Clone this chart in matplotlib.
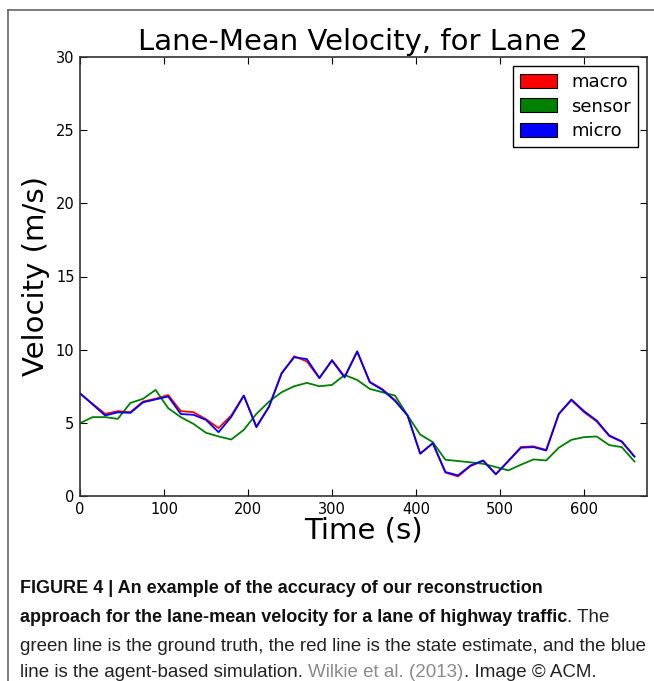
import matplotlib
matplotlib.use("Agg")
import matplotlib.pyplot as plt
from matplotlib.patches import Patch
from matplotlib.lines import Line2D

# ---- data ----
time_s = list(range(0, 661, 15))
macro = [7.0, 6.3, 5.61, 5.8, 5.73, 6.45, 6.65, 6.9, 5.8, 5.73, 5.25, 4.64, 5.5, 6.86, 4.75,
         6.1, 8.35, 9.55, 9.2, 8.05, 9.3, 8.16, 9.85, 7.8, 7.3, 6.55, 5.5, 2.9, 3.6, 1.6,
         1.34, 2.05, 2.4, 1.5, 2.4, 3.35, 3.39, 3.15, 5.6, 6.55, 5.73, 5.1, 4.1, 3.7, 2.7]
sensor = [4.98, 5.39, 5.39, 5.27, 6.36, 6.64, 7.25, 6.0, 5.39, 4.93, 4.32, 4.07, 3.86, 4.52, 5.61,
          6.45, 7.09, 7.5, 7.73, 7.5, 7.59, 8.27, 7.93, 7.32, 7.09, 6.86, 5.5, 4.2, 3.68, 2.48,
          2.39, 2.3, 2.2, 1.98, 1.75, 2.14, 2.5, 2.43, 3.3, 3.84, 4.02, 4.07, 3.48, 3.34, 2.36]
micro = [7.02, 6.26, 5.5, 5.72, 5.68, 6.4, 6.6, 6.8, 5.6, 5.55, 5.2, 4.36, 5.4, 6.86, 4.7,
         6.1, 8.4, 9.48, 9.36, 8.07, 9.25, 8.1, 9.89, 7.77, 7.25, 6.5, 5.5, 2.89, 3.61, 1.64,
         1.41, 2.09, 2.43, 1.48, 2.39, 3.3, 3.34, 3.11, 5.61, 6.59, 5.8, 5.16, 4.14, 3.73, 2.7]
series_names = ["macro", "sensor", "micro"]
series_colors = ["#ff0000", "#008000", "#0000ff"]
x_ticks = [0, 100, 200, 300, 400, 500, 600]
y_ticks = [0, 5, 10, 15, 20, 25, 30]

W, H = 654, 681
fig = plt.figure(figsize=(W / 100, H / 100), dpi=100)
ax = fig.add_axes([80 / W, 1 - 496 / H, (647 - 80) / W, (496 - 57) / H])

for vals, c in zip([macro, sensor, micro], series_colors):
    ax.plot(time_s, vals, color=c, lw=1.3)

ax.set_xlim(0, 675)
ax.set_ylim(0, 30)
ax.set_xticks(x_ticks)
ax.set_yticks(y_ticks)
ax.tick_params(direction="in", top=True, right=True, length=5, width=0.8,
               labelsize=10.5, pad=4)
for s in ax.spines.values():
    s.set_linewidth(1.2)
    s.set_color("#333333")

ax.set_title("Lane-Mean Velocity, for Lane 2", fontsize=21, pad=5)
ax.set_xlabel("Time (s)", fontsize=21, labelpad=0)
ax.set_ylabel("Velocity (m/s)", fontsize=21, labelpad=4)

handles = [Patch(facecolor=c, edgecolor="black", lw=0.8) for c in series_colors]
leg = ax.legend(handles, series_names, loc="upper right", fontsize=13, fancybox=False,
                framealpha=1, edgecolor="black", borderaxespad=0.5, handlelength=2.0,
                handleheight=0.8, labelspacing=0.35, handletextpad=0.8)
leg.get_frame().set_linewidth(1.0)

# outer frame (top and left edges visible)
fig.add_artist(Line2D([8 / W, 1], [1 - 10 / H, 1 - 10 / H], transform=fig.transFigure,
                      color="#666666", lw=1.2))
fig.add_artist(Line2D([8 / W, 8 / W], [1 - 10 / H, 0], transform=fig.transFigure,
                      color="#666666", lw=1.2))

# caption
renderer = fig.canvas.get_renderer()
cap_font = "Liberation Sans"
sizes = {"bold": 13.0, "normal": 13.5}

def chain(y_px, segments, x_px=20):
    x = x_px / W
    for txt, weight, color in segments:
        t = fig.text(x, 1 - y_px / H, txt, fontsize=sizes[weight], family=cap_font,
                     fontweight=weight, color=color, va="baseline", ha="left")
        bb = t.get_window_extent(renderer=renderer)
        x = bb.x1 / W

chain(593, [("FIGURE 4 | An example of the accuracy of our reconstruction", "bold", "#111111")])
chain(622, [("approach for the lane-mean velocity for a lane of highway traffic", "bold", "#111111"),
            (". The", "normal", "#222222")])
chain(651, [("green line is the ground truth, the red line is the state estimate, and the blue",
             "normal", "#222222")])
chain(677, [("line is the agent-based simulation. ", "normal", "#222222"),
            ("Wilkie et al. (2013)", "normal", "#8a8a8a"),
            (". Image \u00a9 ACM.", "normal", "#222222")])
fig.savefig("out.png", dpi=100)
